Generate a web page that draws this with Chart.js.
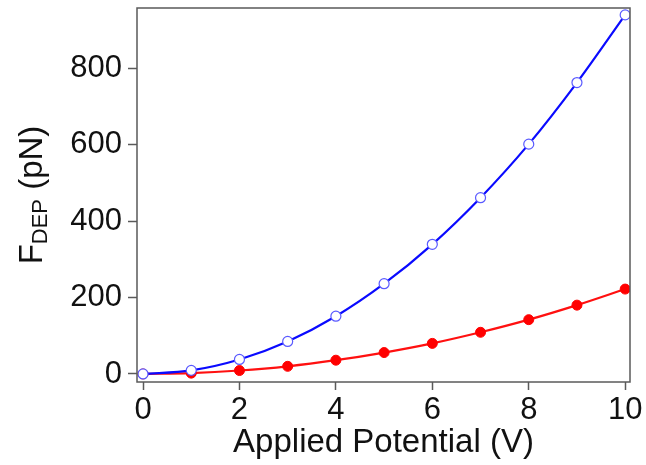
<!DOCTYPE html>
<html>
<head>
  <meta charset="utf-8">
  <title>FDEP vs Applied Potential</title>
  <script src="https://cdn.jsdelivr.net/npm/chart.js@4.4.0/dist/chart.umd.min.js"></script>
  <style>
    html, body { margin: 0; padding: 0; background: #fff; }
    #wrap { width: 646px; height: 465px; position: relative; }
  </style>
</head>
<body>
  <div id="wrap"><canvas id="chart"></canvas></div>
  <script>
    // values
    const potential = [0, 1, 2, 3, 4, 5, 6, 7, 8, 9, 10];
    const forceBlue = [0, 9.5, 38, 85, 151, 236, 339, 461, 601, 762, 939];
    const forceRed  = [0, 2.2, 9, 20, 36, 56, 80, 109, 142, 180, 222];
    const xTicks = [0, 2, 4, 6, 8, 10];
    const yTicks = [0, 200, 400, 600, 800];

    const axisColor = '#5a5a5a';
    const font = 'Liberation Sans, Arial, sans-serif';

    const toPoints = ys => potential.map((x, i) => ({ x: x, y: ys[i] }));

    // frame round the plot area and the y title with its subscript
    const frame = {
      id: 'frame',
      afterDraw(chart) {
        const { ctx, chartArea: a } = chart;
        ctx.save();
        ctx.strokeStyle = axisColor;
        ctx.lineWidth = 1.5;
        ctx.strokeRect(a.left, a.top, a.right - a.left, a.bottom - a.top);

        ctx.translate(33, 195);
        ctx.rotate(-Math.PI / 2);
        ctx.fillStyle = '#111';
        ctx.textBaseline = 'middle';
        const big = '33px ' + font, small = '22px ' + font;
        ctx.font = big;  const wF = ctx.measureText('F').width;
        ctx.font = small; const wSub = ctx.measureText('DEP').width;
        ctx.font = big;  const wRest = ctx.measureText(' (pN)').width;
        let x = -(wF + wSub + wRest) / 2;
        ctx.textAlign = 'left';
        ctx.font = big;   ctx.fillText('F', x, 0); x += wF;
        ctx.font = small; ctx.fillText('DEP', x, 8); x += wSub;
        ctx.font = big;   ctx.fillText(' (pN)', x, 0);
        ctx.restore();
      }
    };

    const noPad = s => { s.paddingTop = 0; s.paddingBottom = 0; s.paddingLeft = 0; s.paddingRight = 0; };

    new Chart(document.getElementById('chart'), {
      type: 'line',
      data: {
        datasets: [
          {
            label: 'blue',
            data: toPoints(forceBlue),
            borderColor: '#0a0aff',
            borderWidth: 2.2,
            cubicInterpolationMode: 'monotone',
            pointRadius: 5,
            pointBackgroundColor: '#fff',
            pointBorderColor: '#5a5aff',
            pointBorderWidth: 1.2
          },
          {
            label: 'red',
            data: toPoints(forceRed),
            borderColor: '#ff1010',
            borderWidth: 2.2,
            cubicInterpolationMode: 'monotone',
            pointRadius: 5,
            pointBackgroundColor: '#ff0000',
            pointBorderColor: '#ff0000',
            pointBorderWidth: 1
          }
        ]
      },
      options: {
        responsive: true,
        maintainAspectRatio: false,
        animation: false,
        layout: { padding: { left: 0, right: 16, top: 8, bottom: 0 } },
        plugins: { legend: { display: false }, tooltip: { enabled: false } },
        scales: {
          x: {
            type: 'linear',
            min: -0.125,
            max: 10.1,
            afterBuildTicks: s => { s.ticks = xTicks.map(v => ({ value: v })); },
            afterFit: s => { s.height = 83; noPad(s); },
            border: { display: false },
            grid: { drawOnChartArea: false, drawTicks: true, tickLength: 8, color: axisColor, tickWidth: 1.5 },
            ticks: { color: '#111', font: { family: font, size: 31 }, padding: 2, maxRotation: 0 },
            title: { display: true, text: 'Applied Potential (V)', color: '#111', font: { family: font, size: 33 }, padding: { top: -8, bottom: 2 } }
          },
          y: {
            type: 'linear',
            min: -21,
            max: 957,
            afterBuildTicks: s => { s.ticks = yTicks.map(v => ({ value: v })); },
            afterFit: s => { s.width = 137; noPad(s); },
            border: { display: false },
            grid: { drawOnChartArea: false, drawTicks: true, tickLength: 9, color: axisColor, tickWidth: 1.5 },
            ticks: { color: '#111', font: { family: font, size: 31 }, padding: 6 }
          }
        }
      },
      plugins: [frame]
    });
  </script>
</body>
</html>
